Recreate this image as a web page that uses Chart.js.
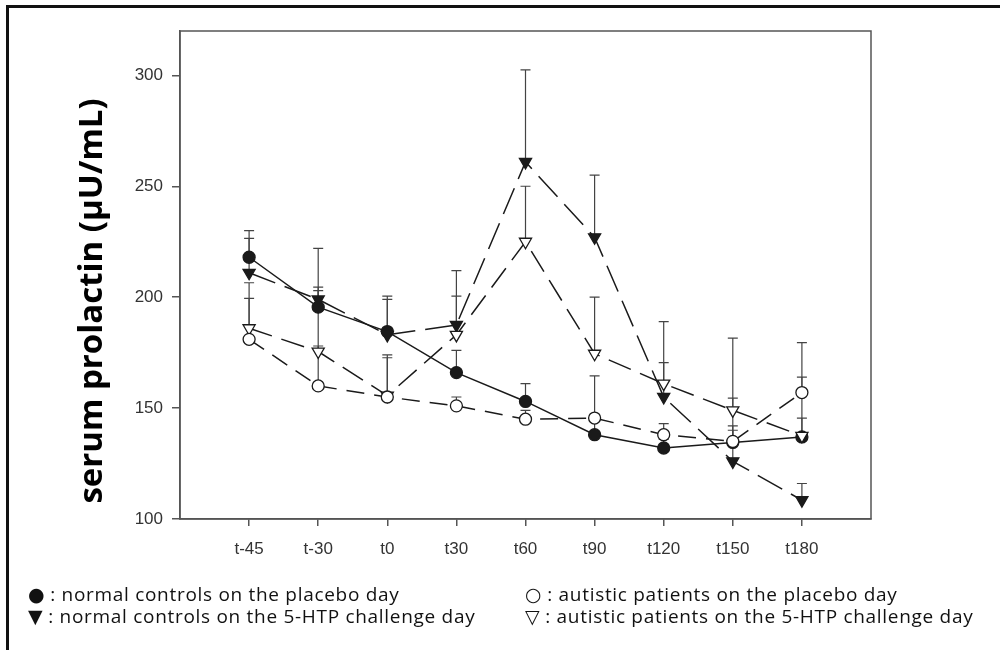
<!DOCTYPE html>
<html>
<head>
<meta charset="utf-8">
<script src="https://cdn.jsdelivr.net/npm/chart.js@4.4.0/dist/chart.umd.min.js"></script>
<style>
    html, body { margin: 0; padding: 0; background: #fff; }
    #wrap { position: relative; width: 1000px; height: 650px; overflow: hidden; }
    #frame { position: absolute; left: 6px; top: 5px; width: 1000px; height: 660px;
             border-top: 3px solid #111; border-left: 3px solid #111; }
    .leg { position: absolute; font-family: "Open Sans", "Noto Sans", sans-serif; font-size: 19px;
           letter-spacing: 0.7px; line-height: 22px; color: #111; white-space: nowrap; }
    .sym { font-family: "DejaVu Sans", sans-serif; font-size: 19px; letter-spacing: 0; }
</style>
</head>
<body>
<div id="wrap">
    <div id="frame"></div>
    <canvas id="prl" width="1000" height="650"></canvas>
    <div class="leg" style="left:28px; top:583px;"><span class="sym">●</span> : normal controls on the placebo day</div>
    <div class="leg" style="left:28px; top:605px;"><span class="sym">▼</span> : normal controls on the 5-HTP challenge day</div>
    <div class="leg" style="left:525px; top:583px;"><span class="sym">○</span> : autistic patients on the placebo day</div>
    <div class="leg" style="left:525px; top:605px;"><span class="sym">▽</span> : autistic patients on the 5-HTP challenge day</div>
</div>
<script>
// time points
const timeLabels = ['t-45', 't-30', 't0', 't30', 't60', 't90', 't120', 't150', 't180'];
const yTicks = [100, 150, 200, 250, 300];

// mean values
const normalPlacebo = [218, 195.5, 184.5, 166, 153, 138, 132, 134.5, 137];
const normalChallenge = [211, 199, 183, 187.5, 261, 227, 155, 126, 108.5];
const autisticPlacebo = [181, 160, 155, 151, 145, 145.5, 138, 135, 157];
const autisticChallenge = [186, 175.5, 155.6, 183, 225, 174.5, 161, 149, 137.5];

// top of the error bars (mean + SEM)
const normalPlaceboTop = [230, 204.5, 200.5, 176, 161, 144, 136, 140, 145.5];
const normalChallengeTop = [226.5, 222, 199, 212, 302.5, 255, 170.5, 142, 116];
const autisticPlaceboTop = [199.5, 178, 172.7, 155, 149, 164.5, 143, 154.5, 179.5];
const autisticChallengeTop = [206.5, 203, 174, 200.5, 250, 200, 189, 181.5, 164];

const toPoints = arr => arr.map((v, i) => ({ x: i, y: v }));

// error bars drawn under the markers
const errorBars = {
    id: 'errorBars',
    beforeDatasetsDraw(chart) {
        const { ctx, scales: { x, y } } = chart;
        ctx.save();
        ctx.strokeStyle = '#444';
        ctx.lineWidth = 1.2;
        chart.data.datasets.forEach(ds => {
            ds.errTop.forEach((top, i) => {
                const px = x.getPixelForValue(i);
                const y0 = y.getPixelForValue(ds.data[i].y);
                const y1 = y.getPixelForValue(top);
                ctx.beginPath();
                ctx.moveTo(px, y0);
                ctx.lineTo(px, y1);
                ctx.moveTo(px - 5, y1);
                ctx.lineTo(px + 5, y1);
                ctx.stroke();
            });
        });
        ctx.restore();
    }
};

// box around the plot and the rotated y title
const frameAndTitle = {
    id: 'frameAndTitle',
    afterDraw(chart) {
        const { ctx, chartArea: a } = chart;
        ctx.save();
        ctx.strokeStyle = '#555';
        ctx.lineWidth = 1.5;
        ctx.strokeRect(a.left, a.top, a.right - a.left, a.bottom - a.top);
        ctx.translate(102, 301);
        ctx.rotate(-Math.PI / 2);
        ctx.font = 'bold 33px "Open Sans"';
        ctx.fillStyle = '#000';
        ctx.textAlign = 'center';
        ctx.textBaseline = 'alphabetic';
        ctx.fillText('serum prolactin (µU/mL)', 0, 0);
        ctx.restore();
    }
};

function series(data, top, style, filled, dash, radius) {
    return {
        data: toPoints(data),
        errTop: top,
        borderColor: '#1a1a1a',
        borderWidth: 1.5,
        borderDash: dash,
        pointStyle: style,
        pointRotation: style === 'triangle' ? 180 : 0,
        pointRadius: radius,
        pointBorderWidth: 1.3,
        pointBackgroundColor: filled ? '#1a1a1a' : '#fff',
        pointBorderColor: '#1a1a1a',
        tension: 0,
        fill: false
    };
}

new Chart(document.getElementById('prl'), {
    type: 'line',
    data: {
        datasets: [
            series(autisticPlacebo, autisticPlaceboTop, 'circle', false, [18, 10], 6),
            series(autisticChallenge, autisticChallengeTop, 'triangle', false, [24, 10], 7),
            series(normalChallenge, normalChallengeTop, 'triangle', true, [28, 10], 7),
            series(normalPlacebo, normalPlaceboTop, 'circle', true, [], 6)
        ]
    },
    options: {
        responsive: false,
        animation: false,
        layout: { padding: { top: 31, right: 129, left: 0, bottom: 0 } },
        plugins: { legend: { display: false }, tooltip: { enabled: false } },
        scales: {
            x: {
                type: 'linear',
                min: -1,
                max: 9,
                afterBuildTicks: s => { s.ticks = timeLabels.map((_, i) => ({ value: i })); },
                afterFit: s => { s.height = 131; },
                grid: { drawOnChartArea: false, drawTicks: true, tickLength: 7, color: '#555', lineWidth: 1.5 },
                border: { display: true, color: '#555', width: 1.5 },
                ticks: {
                    color: '#333',
                    padding: 13,
                    maxRotation: 0,
                    font: { family: '"Liberation Sans", Arial', size: 17 },
                    callback: v => timeLabels[v]
                }
            },
            y: {
                min: 100,
                max: 320,
                afterBuildTicks: s => { s.ticks = yTicks.map(v => ({ value: v })); },
                afterFit: s => { s.width = 180; },
                grid: { drawOnChartArea: false, drawTicks: true, tickLength: 8, color: '#555', lineWidth: 1.5 },
                border: { display: true, color: '#555', width: 1.5 },
                ticks: {
                    color: '#333',
                    padding: 9,
                    font: { family: '"Liberation Sans", Arial', size: 17 }
                }
            }
        }
    },
    plugins: [errorBars, frameAndTitle]
});
</script>
</body>
</html>
